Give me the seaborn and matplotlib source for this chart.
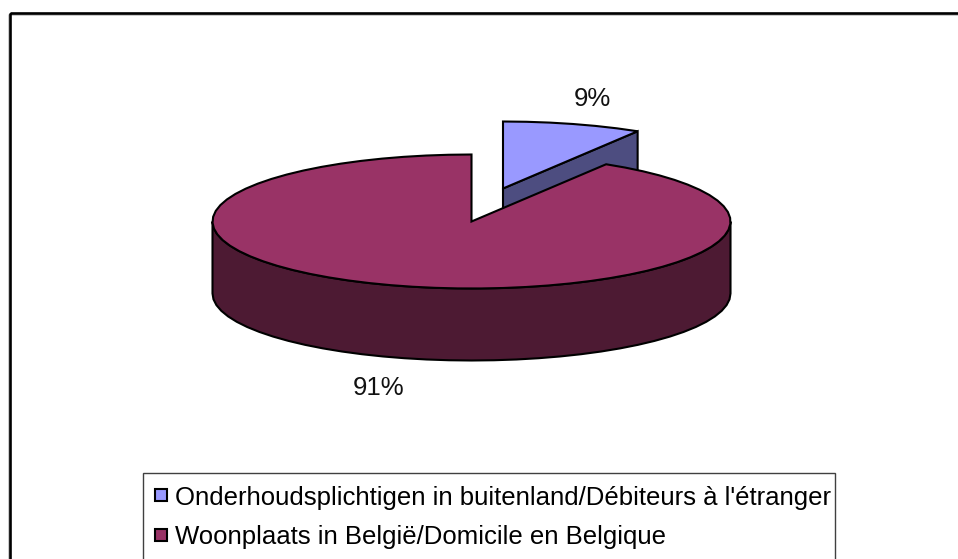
import numpy as np
import matplotlib
matplotlib.use("Agg")
import matplotlib.pyplot as plt
from matplotlib.patches import Polygon, Rectangle
from matplotlib.lines import Line2D
import seaborn as sns

labels = ["Onderhoudsplichtigen in buitenland/Débiteurs à l'étranger",
          "Woonplaats in België/Domicile en Belgique"]
values = [8.7, 91.3]
pct_labels = ["9%", "91%"]
colors = ["#9999FF", "#993366"]
side_colors = ["#4D4D80", "#4D1A33"]

sns.set_theme(style="white")
plt.rcParams['font.family'] = ['Liberation Sans', 'DejaVu Sans']

W, H = 958, 559
fig = plt.figure(figsize=(W / 100, H / 100), dpi=100)
ax = fig.add_axes([0, 0, 1, 1])
ax.set_xlim(0, W)
ax.set_ylim(H, 0)
ax.axis("off")

RX, RY, DEPTH = 259, 67, 72
centers = [(503, 188.5), (471.5, 221.5)]
LW = 1.5
FS = 18.55


def ell(cx, cy, t):
    return cx + RX * np.sin(t), cy - RY * np.cos(t)


fr = np.array(values) / sum(values) * 2 * np.pi
starts = np.concatenate([[0], np.cumsum(fr)[:-1]])

# chart frame: only its top and left edges fall inside the picture
ax.add_patch(Rectangle((9.5, 14), 980, 600, fc="none", ec="#c4c4c4", lw=2.0, zorder=0))
ax.add_patch(Rectangle((10, 13.3), 980, 600, fc="none", ec="black", lw=1.9, zorder=1))

for i, (s, f) in enumerate(zip(starts, fr)):
    cx, cy = centers[i]
    n = max(4, int(f / (2 * np.pi) * 72))
    t = np.linspace(s, s + f, n + 1)
    x, y = ell(cx, cy, t)
    if i == 0:
        ex, ey = x[-1], y[-1]
        side = np.array([[cx, cy], [ex, ey], [ex, ey + DEPTH], [cx, cy + DEPTH]])
        ax.add_patch(Polygon(side, fc=side_colors[i], ec="black", lw=LW, zorder=2))
    else:
        rim_t = np.linspace(np.pi / 2, 3 * np.pi / 2, 37)
        rx, ry = ell(cx, cy, rim_t)
        rim = np.column_stack([np.r_[rx, rx[::-1]], np.r_[ry, ry[::-1] + DEPTH]])
        ax.add_patch(Polygon(rim, fc=side_colors[i], ec="black", lw=LW, zorder=4))
    top = np.column_stack([np.r_[cx, x], np.r_[cy, y]])
    ax.add_patch(Polygon(top, fc=colors[i], ec="black", lw=LW, joinstyle="miter", zorder=3 if i == 0 else 5))

ax.text(592, 99, pct_labels[0], ha="center", va="center", fontsize=FS, color="#111111")
ax.text(379, 388, pct_labels[1], ha="center", va="center", fontsize=FS, color="#111111")

# legend box runs past the bottom of the picture
ax.add_patch(Rectangle((143, 473), 692, 120, fc="white", ec="#404040", lw=1.0, zorder=9))
handles = [Line2D([], [], ls="none", marker="s", ms=8, mfc=c, mec="black", mew=1.5) for c in colors]
leg = ax.legend(handles, labels, loc="upper left", bbox_to_anchor=(154 / W, 1 - 485.5 / H),
                bbox_transform=fig.transFigure, fontsize=FS, frameon=False,
                borderaxespad=0, borderpad=0, handlelength=0.55, handletextpad=0.27,
                labelspacing=0.62, labelcolor="black")
leg.set_zorder(10)

fig.savefig("out.png", dpi=100)
